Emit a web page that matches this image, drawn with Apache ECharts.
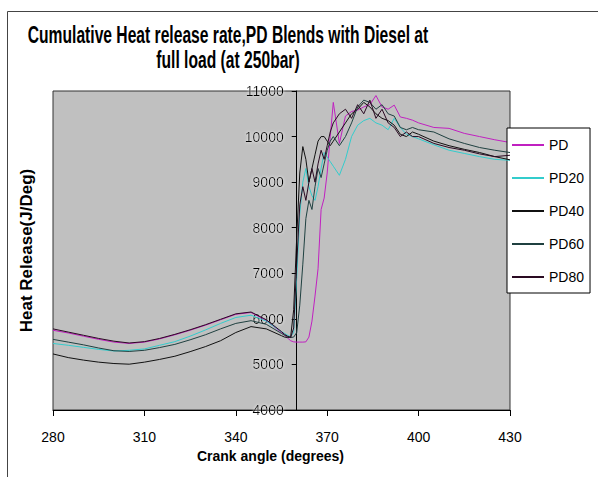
<!DOCTYPE html>
<html>
<head>
<meta charset="utf-8">
<script src="https://cdn.jsdelivr.net/npm/echarts@6/dist/echarts.min.js"></script>
<style>
html,body{margin:0;padding:0;background:#fff;}
#chart{width:598px;height:477px;}
</style>
</head>
<body>
<div id="chart"></div>
<script>
const angles = [280,285,290,295,300,305,310,315,320,325,330,335,340,345,350,355,
  356,357,358,359,360,361,362,363,364,365,366,367,368,369,370,371,372,
  374,376,378,380,382,384,386,388,390,392,394,396,398,400,
  405,410,415,420,425,430];

const pd = [5750,5690,5620,5550,5490,5460,5490,5560,5650,5750,5860,5980,6100,6140,5960,5700,
  5640,5580,5520,5495,5490,5490,5490,5495,5600,5950,6500,7100,8400,8650,9200,10000,10750,
  9850,10450,10550,10580,10650,10700,10900,10650,10600,10690,10430,10400,10360,10300,
  10200,10180,10070,10000,9930,9870];

const pd20 = [5460,5420,5375,5330,5295,5310,5340,5420,5500,5620,5755,5900,6030,6080,5950,5720,
  5680,5640,5610,5700,6900,8300,9000,9300,8900,8700,8600,8900,9300,9650,9550,9450,9350,
  9150,9500,10000,10250,10350,10400,10300,10250,10150,10400,10200,10050,10000,9950,
  9820,9700,9630,9560,9500,9480];

const pd40 = [5230,5150,5095,5050,5020,5005,5050,5110,5180,5280,5390,5520,5700,5830,5780,5630,
  5600,5590,5600,6200,7800,9200,9780,9500,9000,9300,9600,9900,10000,10000,9900,9800,9900,
  10100,10300,10500,10600,10750,10650,10500,10400,10350,10250,10050,10000,10100,10050,
  9900,9800,9720,9650,9560,9490];

const pd60 = [5550,5490,5430,5360,5300,5285,5310,5370,5440,5540,5650,5780,5900,5960,5880,5680,
  5640,5610,5590,5600,5700,6300,7200,8200,8600,8400,8900,9300,9100,9400,9700,9900,10000,
  9800,10000,10300,10650,10800,10750,10600,10700,10500,10450,10200,10150,10200,10150,
  10100,9950,9850,9760,9700,9650];

const pd80 = [5780,5710,5640,5570,5510,5470,5500,5570,5660,5760,5870,5990,6110,6150,5980,5720,
  5660,5620,5590,5800,7200,8500,8900,8600,9000,9300,9000,9400,9700,9500,9800,10100,10300,
  10500,10600,10400,10700,10500,10800,10400,10600,10300,10200,10000,10100,10000,10000,
  9850,9760,9700,9620,9560,9590];

const seriesNames = ['PD','PD20','PD40','PD60','PD80'];
const seriesValues = [pd, pd20, pd40, pd60, pd80];
const seriesColors = ['#c020c0','#33cccc','#111111','#1f4040','#2a0a22'];

const xTicks = [280,310,340,370,400,430];
const yMin = 4000, yMax = 11000, yStep = 1000;

const titleLines = ['Cumulative Heat release rate,PD Blends with Diesel at', 'full load (at 250bar)'];

const FONT = '"Liberation Sans",Arial,sans-serif';
const TITLE_FONT = 'bold 23px "Liberation Sans", Arial, sans-serif';

// horizontal compression to mimic the condensed title face
const mctx = document.createElement('canvas').getContext('2d');
mctx.font = TITLE_FONT;
const titleScale = 401 / mctx.measureText(titleLines[0]).width;

const chart = echarts.init(document.getElementById('chart'), null, {renderer:'svg'});

const gridLeft = 53, gridRight = 88, gridWidth = 598 - gridLeft - gridRight;
const yAxisAt = 360;
const yOffset = -gridWidth * (yAxisAt - xTicks[0]) / (xTicks[xTicks.length-1] - xTicks[0]);

chart.setOption({
  animation: false,
  backgroundColor: '#ffffff',
  graphic: [{
    type: 'rect', left: 5, top: 9,
    shape: {width: 620, height: 500},
    style: {fill: 'none', stroke: '#444', lineWidth: 1}
  }].concat(titleLines.map((t, i) => ({
    type: 'text', x: 228, y: 35 + i * 25, scaleX: titleScale,
    style: {text: t, font: TITLE_FONT, fill: '#000',
      textAlign: 'center', textVerticalAlign: 'middle'}
  }))),
  legend: {
    orient: 'vertical', left: 507, top: 128,
    backgroundColor: '#ffffff', borderColor: '#000', borderWidth: 1, borderRadius: 0,
    padding: [9, 6, 8, 5],
    icon: 'rect', itemWidth: 32, itemHeight: 2, itemGap: 17,
    textStyle: {fontFamily: FONT, fontSize: 14, color: '#000', lineHeight: 16},
    data: seriesNames
  },
  grid: {
    left: gridLeft, right: gridRight, top: 91, bottom: 67,
    show: true, backgroundColor: '#c0c0c0', borderColor: '#333', borderWidth: 1,
    containLabel: false
  },
  xAxis: {
    type: 'value', min: xTicks[0], max: xTicks[xTicks.length-1], interval: 30,
    axisLine: {lineStyle: {color: '#000', width: 1}},
    axisTick: {show: true, length: 6, lineStyle: {color: '#000'}},
    axisLabel: {fontFamily: FONT, fontSize: 14, color: '#000', margin: 20},
    splitLine: {show: false},
    name: 'Crank angle (degrees)', nameLocation: 'middle', nameGap: 35,
    nameTextStyle: {fontFamily: FONT, fontWeight: 'bold', fontSize: 14, color: '#000', padding: [0, 22, 0, 0]}
  },
  yAxis: {
    type: 'value', min: yMin, max: yMax, interval: yStep,
    offset: yOffset,
    axisLine: {show: true, lineStyle: {color: '#000', width: 1}},
    axisTick: {show: true, length: 5, lineStyle: {color: '#000'}},
    axisLabel: {fontFamily: FONT, fontSize: 14, color: '#000', margin: 13,
      formatter: v => String(v),
      textShadowColor: 'rgba(255,255,255,0.9)', textShadowBlur: 3},
    splitLine: {show: true, lineStyle: {color: '#2a2a2a', width: 2,
      shadowColor: 'rgba(255,255,255,0.8)', shadowOffsetY: 2, shadowBlur: 1}},
    name: 'Heat Release(J/Deg)', nameLocation: 'middle', nameGap: -yOffset + 18,
    nameTextStyle: {fontFamily: FONT, fontWeight: 'bold', fontSize: 17, color: '#000'}
  },
  series: seriesNames.map((n, k) => ({
    name: n, type: 'line', symbol: 'none', smooth: false,
    lineStyle: {color: seriesColors[k], width: 1},
    itemStyle: {color: seriesColors[k]},
    data: angles.map((a, i) => [a, seriesValues[k][i]]),
    z: 3 + k
  }))
});
</script>
</body>
</html>
